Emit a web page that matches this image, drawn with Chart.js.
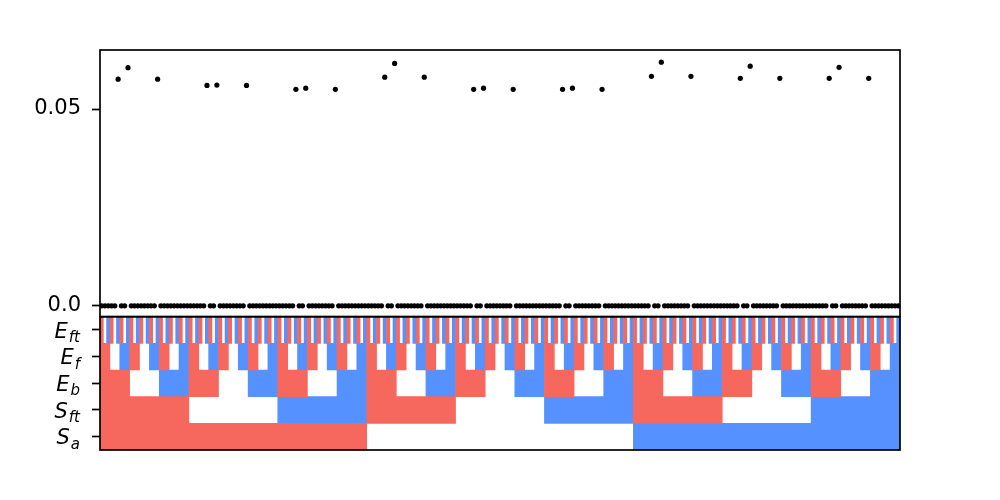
<!DOCTYPE html>
<html>
<head>
<meta charset="utf-8">
<script src="https://cdn.jsdelivr.net/npm/chart.js@4.4.1/dist/chart.umd.min.js"></script>
<style>
html,body{margin:0;padding:0;background:#fff;}
canvas{display:block;}
</style>
</head>
<body>
<canvas id="c" width="1000" height="500"></canvas>
<script>
// ---- data ----
const N_COMBOS = 243;                                   // number of factor combinations (x categories 0..242)
const rowLabels = ['E_ft', 'E_f', 'E_b', 'S_ft', 'S_a']; // factor rows, top to bottom
const rowBlockSizes = [1, 3, 9, 27, 81];                // run length of each level in the design rows
const levelColors = ['#F6675E', null, '#5591FF'];       // level 1 red, level 2 white (empty), level 3 blue

// non-zero points (all other combinations are 0)
const spikeIndex = [5, 8, 17, 32, 35, 44, 59, 62, 71, 86, 89, 98, 113, 116, 125,
                    140, 143, 152, 167, 170, 179, 194, 197, 206, 221, 224, 233];
const spikeValue = [0.0576, 0.0605, 0.0576, 0.0560, 0.0561, 0.0560, 0.0550, 0.0553, 0.0550,
                    0.0581, 0.0616, 0.0581, 0.0550, 0.0553, 0.0550, 0.0550, 0.0553, 0.0550,
                    0.0583, 0.0619, 0.0583, 0.0578, 0.0609, 0.0578, 0.0578, 0.0606, 0.0578];

const yTicks = [0, 0.05];
const yTickLabels = ['0.0', '0.05'];

// ---- build datasets ----
const points = [];
for (let i = 0; i < N_COMBOS; i++) {
  const k = spikeIndex.indexOf(i);
  points.push({x: i, y: k >= 0 ? spikeValue[k] : 0});
}

const blockData = levelColors.map(() => []);
rowLabels.forEach((lab, r) => {
  const size = rowBlockSizes[r];
  for (let s = 0; s < N_COMBOS; s += size) {
    const level = (s / size) % 3;
    blockData[level].push({y: lab, x: [s - 0.5, s + size - 0.5]});
  }
});

const barSets = [];
levelColors.forEach((col, lv) => {
  if (!col) return;
  barSets.push({
    type: 'bar', indexAxis: 'y', xAxisID: 'x', yAxisID: 'yRows',
    data: blockData[lv], backgroundColor: col, borderWidth: 0,
    barPercentage: 1, categoryPercentage: 1, grouped: false
  });
});

const FONT = 'DejaVu Sans';
const FSIZE = 21;
const LABEL_RIGHT = 80;

const framePlugin = {
  id: 'frame',
  beforeDraw(chart) {
    const ctx = chart.ctx;
    ctx.save(); ctx.fillStyle = '#fff'; ctx.fillRect(0, 0, chart.width, chart.height); ctx.restore();
  },
  afterDatasetsDraw(chart) {
    const ctx = chart.ctx, a = chart.chartArea;
    ctx.save();
    ctx.strokeStyle = '#000'; ctx.lineWidth = 1.7;
    ['y', 'yRows'].forEach(id => {
      const s = chart.scales[id];
      ctx.strokeRect(a.left, s.top, a.right - a.left, s.bottom - s.top);
    });
    ctx.restore();
  },
  afterDraw(chart) {
    const ctx = chart.ctx, s = chart.scales.yRows;
    ctx.save();
    ctx.fillStyle = '#000';
    ctx.textBaseline = 'alphabetic';
    ctx.textAlign = 'left';
    const subSize = Math.round(FSIZE * 0.7);
    rowLabels.forEach((lab, i) => {
      const [base, sub] = lab.split('_');
      const y = s.getPixelForValue(i);
      ctx.font = 'italic ' + FSIZE + 'px "' + FONT + '"';
      const wb = ctx.measureText(base).width + 1;
      ctx.font = 'italic ' + subSize + 'px "' + FONT + '"';
      const ws = ctx.measureText(sub).width;
      const x0 = LABEL_RIGHT - wb - ws;
      ctx.font = 'italic ' + FSIZE + 'px "' + FONT + '"';
      ctx.fillText(base, x0, y + 7.6);
      ctx.font = 'italic ' + subSize + 'px "' + FONT + '"';
      ctx.fillText(sub, x0 + wb, y + 12);
    });
    ctx.restore();
  }
};

new Chart(document.getElementById('c'), {
  type: 'scatter',
  data: {
    datasets: [
      {type: 'scatter', xAxisID: 'x', yAxisID: 'y', data: points,
       pointRadius: 2.6, pointHoverRadius: 2.6, backgroundColor: '#000', borderWidth: 0},
      ...barSets
    ]
  },
  options: {
    responsive: false, animation: false, devicePixelRatio: 1,
    layout: {padding: {left: 0, right: 100, top: 50, bottom: 50}},
    plugins: {legend: {display: false}, tooltip: {enabled: false}},
    scales: {
      x: {type: 'linear', axis: 'x', position: 'bottom', min: -0.5, max: N_COMBOS - 0.5,
          display: false, offset: false},
      y: {type: 'linear', axis: 'y', position: 'left', stack: 'v', stackWeight: 2, weight: 2,
          min: -0.00275, max: 0.065,
          afterFit(s) { s.width = 100; },
          afterBuildTicks(s) { s.ticks = yTicks.map(v => ({value: v})); },
          ticks: {callback: (v) => { const k = yTicks.indexOf(v); return k >= 0 ? yTickLabels[k] : ''; },
                  font: {family: FONT, size: FSIZE}, color: '#000', padding: 11, autoSkip: false},
          grid: {drawOnChartArea: false, drawTicks: true, tickLength: 8, tickWidth: 1.7, tickColor: '#000'},
          border: {display: false}},
      yRows: {type: 'category', axis: 'y', position: 'left', labels: rowLabels, offset: true,
          stack: 'v', stackWeight: 1, weight: 1,
          afterFit(s) { s.width = 100; },
          ticks: {callback: () => '', font: {family: FONT, size: 10}, padding: 11, autoSkip: false},
          grid: {offset: false, drawOnChartArea: false, drawTicks: true, tickLength: 8, tickWidth: 1.7, tickColor: '#000'},
          border: {display: false}}
    }
  },
  plugins: [framePlugin]
});
</script>
</body>
</html>
